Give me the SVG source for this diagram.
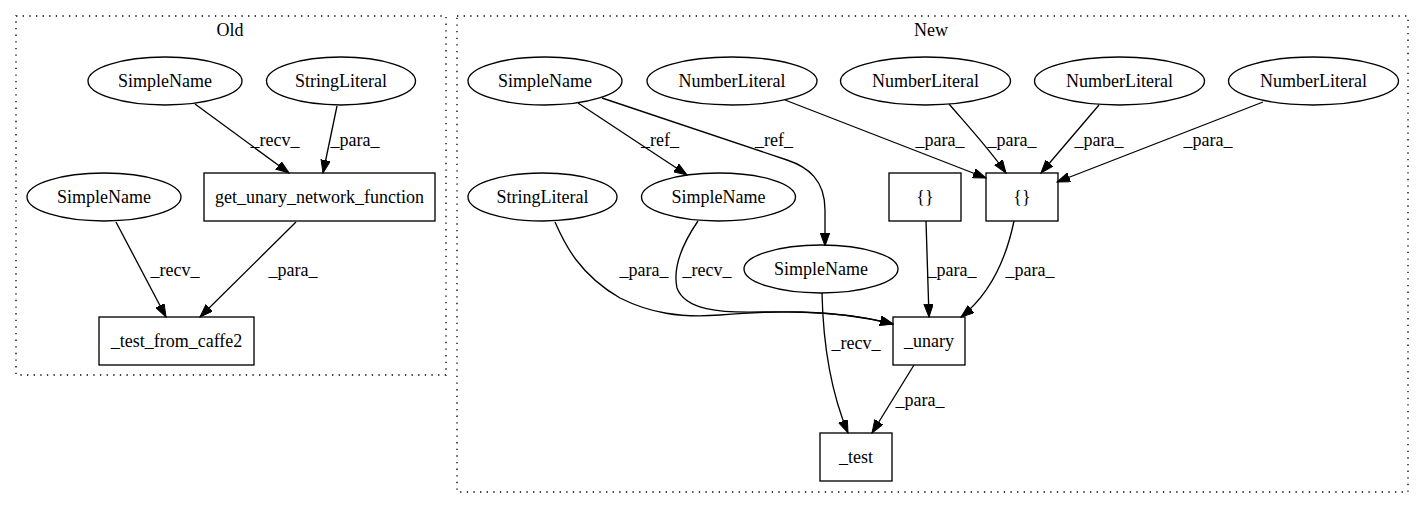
<svg xmlns="http://www.w3.org/2000/svg" width="1424" height="508" viewBox="0 0 1424 508">
<style>
text{font-family:"Liberation Serif","Times New Roman",serif;font-size:18px;fill:#000;text-anchor:middle}
.n{fill:none;stroke:#000;stroke-width:1.33}
.c{fill:none;stroke:#000;stroke-width:1.33;stroke-dasharray:1.33,5.3}
.e{fill:none;stroke:#000;stroke-width:1.33;marker-end:url(#ah)}
</style>
<defs>
<marker id="ah" markerUnits="userSpaceOnUse" markerWidth="14" markerHeight="10" refX="13" refY="4.7" orient="auto">
<path d="M0,0 L13,4.7 L0,9.4 z" fill="#000" stroke="#000" stroke-width="1"/>
</marker>
</defs>
<rect width="1424" height="508" fill="#fff"/>
<g id="cluster-old">
<rect class="c" x="16" y="16" width="430" height="359"/>
<text x="230" y="36">Old</text>
</g>
<g id="cluster-new">
<rect class="c" x="457" y="16" width="951" height="476"/>
<text x="931" y="36">New</text>
</g>
<g id="old-sn1"><ellipse class="n" cx="165" cy="81" rx="77" ry="24"/><text x="165" y="87">SimpleName</text></g>
<g id="old-sl"><ellipse class="n" cx="341" cy="81" rx="74.5" ry="24"/><text x="341" y="87">StringLiteral</text></g>
<g id="old-gunf"><rect class="n" x="204" y="173" width="231" height="48"/><text x="319.5" y="203">get_unary_network_function</text></g>
<g id="old-sn2"><ellipse class="n" cx="104" cy="197" rx="77" ry="24"/><text x="104" y="203">SimpleName</text></g>
<g id="old-tfc2"><rect class="n" x="99" y="317" width="155" height="48"/><text x="176.5" y="347">_test_from_caffe2</text></g>
<g id="new-sna"><ellipse class="n" cx="545" cy="81" rx="77" ry="24"/><text x="545" y="87">SimpleName</text></g>
<g id="new-nl1"><ellipse class="n" cx="732" cy="81" rx="85" ry="24"/><text x="732" y="87">NumberLiteral</text></g>
<g id="new-nl2"><ellipse class="n" cx="925.5" cy="81" rx="85" ry="24"/><text x="925.5" y="87">NumberLiteral</text></g>
<g id="new-nl3"><ellipse class="n" cx="1119.5" cy="81" rx="85" ry="24"/><text x="1119.5" y="87">NumberLiteral</text></g>
<g id="new-nl4"><ellipse class="n" cx="1313.5" cy="81" rx="85" ry="24"/><text x="1313.5" y="87">NumberLiteral</text></g>
<g id="new-sl"><ellipse class="n" cx="542.5" cy="197" rx="74.5" ry="24"/><text x="542.5" y="203">StringLiteral</text></g>
<g id="new-snb"><ellipse class="n" cx="718.5" cy="197" rx="77" ry="24"/><text x="718.5" y="203">SimpleName</text></g>
<g id="new-br1"><rect class="n" x="889" y="173" width="72" height="48"/><text x="925" y="203">{}</text></g>
<g id="new-br2"><rect class="n" x="986" y="173" width="72" height="48"/><text x="1022" y="203">{}</text></g>
<g id="new-snc"><ellipse class="n" cx="821" cy="269" rx="77" ry="24"/><text x="821" y="275">SimpleName</text></g>
<g id="new-unary"><rect class="n" x="893" y="317" width="72" height="48"/><text x="929" y="347">_unary</text></g>
<g id="new-test"><rect class="n" x="820" y="433" width="72" height="48"/><text x="856" y="463">_test</text></g>
<g id="connectors">
<path class="e" d="M195,104 L289,173"/>
<text x="275" y="146">_recv_</text>
<path class="e" d="M337,106 L323,173"/>
<text x="355" y="146">_para_</text>
<path class="e" d="M116,222 L166,317"/>
<text x="175" y="276">_recv_</text>
<path class="e" d="M296,222 L200,317"/>
<text x="293" y="276">_para_</text>
<path class="e" d="M578,103 L687,175"/>
<text x="660" y="146">_ref_</text>
<path class="e" d="M602,98 L787,160 C808,167 825,180 825,210 L825,246"/>
<text x="774" y="146">_ref_</text>
<path class="e" d="M785,100 L986,178"/>
<text x="940" y="146">_para_</text>
<path class="e" d="M949,104 C968,126 990,150 1006,173"/>
<text x="1012" y="146">_para_</text>
<path class="e" d="M1099,105 L1041,173"/>
<text x="1099" y="146">_para_</text>
<path class="e" d="M1263,102 L1057,182"/>
<text x="1208" y="146">_para_</text>
<path class="e" d="M555,222 C565,245 580,275 620,298 C650,313 680,318 720,315 C770,311 830,308 893,324"/>
<text x="644" y="276">_para_</text>
<path class="e" d="M698,221 C685,240 672,265 677,288 C685,310 720,313 760,312 C810,311 860,315 893,324"/>
<text x="707" y="276">_recv_</text>
<path class="e" d="M926,221 L929,317"/>
<text x="952" y="276">_para_</text>
<path class="e" d="M1014,221 C1008,250 995,290 961,317"/>
<text x="1030" y="276">_para_</text>
<path class="e" d="M822,293 C823,340 830,390 848,433"/>
<text x="856" y="349">_recv_</text>
<path class="e" d="M914,365 L872,433"/>
<text x="920" y="406">_para_</text>
</g>
</svg>
